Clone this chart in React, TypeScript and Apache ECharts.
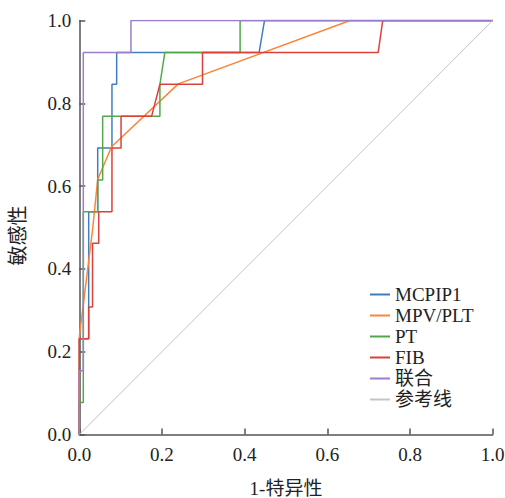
import React, { useEffect, useRef } from "react";
import * as echarts from "echarts";

const seriesNames = ["MCPIP1", "MPV/PLT", "PT", "FIB", "联合", "参考线"];
const colors = ["#3f7fbf", "#ff8438", "#52a84a", "#dd4039", "#9b7dcc", "#c4c4c4"];

const mcpip1: [number, number][] = [
  [0, 0], [0, 0.231], [0.0227, 0.231], [0.0227, 0.538], [0.0445, 0.538], [0.0445, 0.692],
  [0.079, 0.692], [0.079, 0.846], [0.0904, 0.846], [0.0904, 0.923], [0.435, 0.923], [0.448, 1], [1, 1],
];
const mpvPlt: [number, number][] = [
  [0, 0], [0, 0.236], [0.032, 0.494], [0.0445, 0.616], [0.078, 0.695], [0.2395, 0.847], [0.655, 1], [1, 1],
];
const pt: [number, number][] = [
  [0, 0], [0, 0.077], [0.0097, 0.077], [0.0097, 0.538], [0.0445, 0.538], [0.0445, 0.615],
  [0.0565, 0.615], [0.0565, 0.769], [0.195, 0.769], [0.195, 0.846], [0.207, 0.923], [0.389, 0.923],
  [0.389, 1], [1, 1],
];
const fib: [number, number][] = [
  [0, 0], [0, 0.231], [0.0227, 0.231], [0.0227, 0.308], [0.032, 0.308], [0.032, 0.462],
  [0.047, 0.462], [0.047, 0.538], [0.079, 0.538], [0.079, 0.692], [0.101, 0.692], [0.101, 0.769],
  [0.175, 0.769], [0.195, 0.846], [0.298, 0.846], [0.298, 0.923], [0.723, 0.923], [0.734, 1], [1, 1],
];
const combined: [number, number][] = [
  [0, 0], [0, 0.154], [0.0097, 0.154], [0.0097, 0.923], [0.125, 0.923], [0.125, 1], [1, 1],
];
const reference: [number, number][] = [[0, 0], [1, 1]];

const allData = [mcpip1, mpvPlt, pt, fib, combined, reference];

const FONT = "'Liberation Serif', 'Times New Roman', 'Noto Sans CJK SC', serif";

export default function App() {
  const ref = useRef<HTMLDivElement>(null);
  useEffect(() => {
    if (!ref.current) return;
    const chart = echarts.init(ref.current, undefined, { renderer: "svg" });
    const axisCommon = {
      min: 0,
      max: 1,
      interval: 0.2,
      axisLine: { show: true, lineStyle: { color: "#555", width: 1.5 } },
      axisTick: { show: true, inside: true, length: 6, lineStyle: { color: "#555", width: 1.5 } },
      splitLine: { show: false },
      axisLabel: {
        color: "#222",
        fontSize: 19,
        fontFamily: FONT,
        formatter: (v: number) => v.toFixed(1),
      },
      nameTextStyle: { color: "#222", fontSize: 19, fontFamily: FONT },
    };
    chart.setOption({
      animation: false,
      backgroundColor: "#fff",
      grid: { left: 79.3, right: 12.3, top: 20.5, bottom: 63.5, outerBoundsMode: "none", containLabel: false },
      xAxis: {
        type: "value",
        ...axisCommon,
        axisLabel: { ...axisCommon.axisLabel, margin: 10 },
        name: "1-特异性",
        nameLocation: "middle",
        nameGap: 44,
      },
      yAxis: {
        type: "value",
        ...axisCommon,
        axisLabel: { ...axisCommon.axisLabel, margin: 8 },
        name: "敏感性",
        nameLocation: "middle",
        nameGap: 51,
        nameTextStyle: { color: "#222", fontSize: 20, fontFamily: FONT, padding: [0, 0, 0, -16] },
      },
      legend: {
        orient: "vertical",
        left: 370,
        top: 285,
        padding: 0,
        itemWidth: 20,
        itemHeight: 2,
        itemGap: 2,
        icon: "rect",
        textStyle: { color: "#222", fontSize: 19, fontFamily: FONT },
        data: seriesNames,
      },
      series: seriesNames.map((name, i) => ({
        name,
        type: "line",
        data: allData[i],
        showSymbol: false,
        symbol: "none",
        color: colors[i],
        lineStyle: { color: colors[i], width: i === 5 ? 1 : 1.5 },
        z: 2 + i,
      })),
    });
    return () => chart.dispose();
  }, []);
  return <div ref={ref} style={{ width: 505, height: 498, position: "absolute", left: 0, top: 0 }} />;
}
